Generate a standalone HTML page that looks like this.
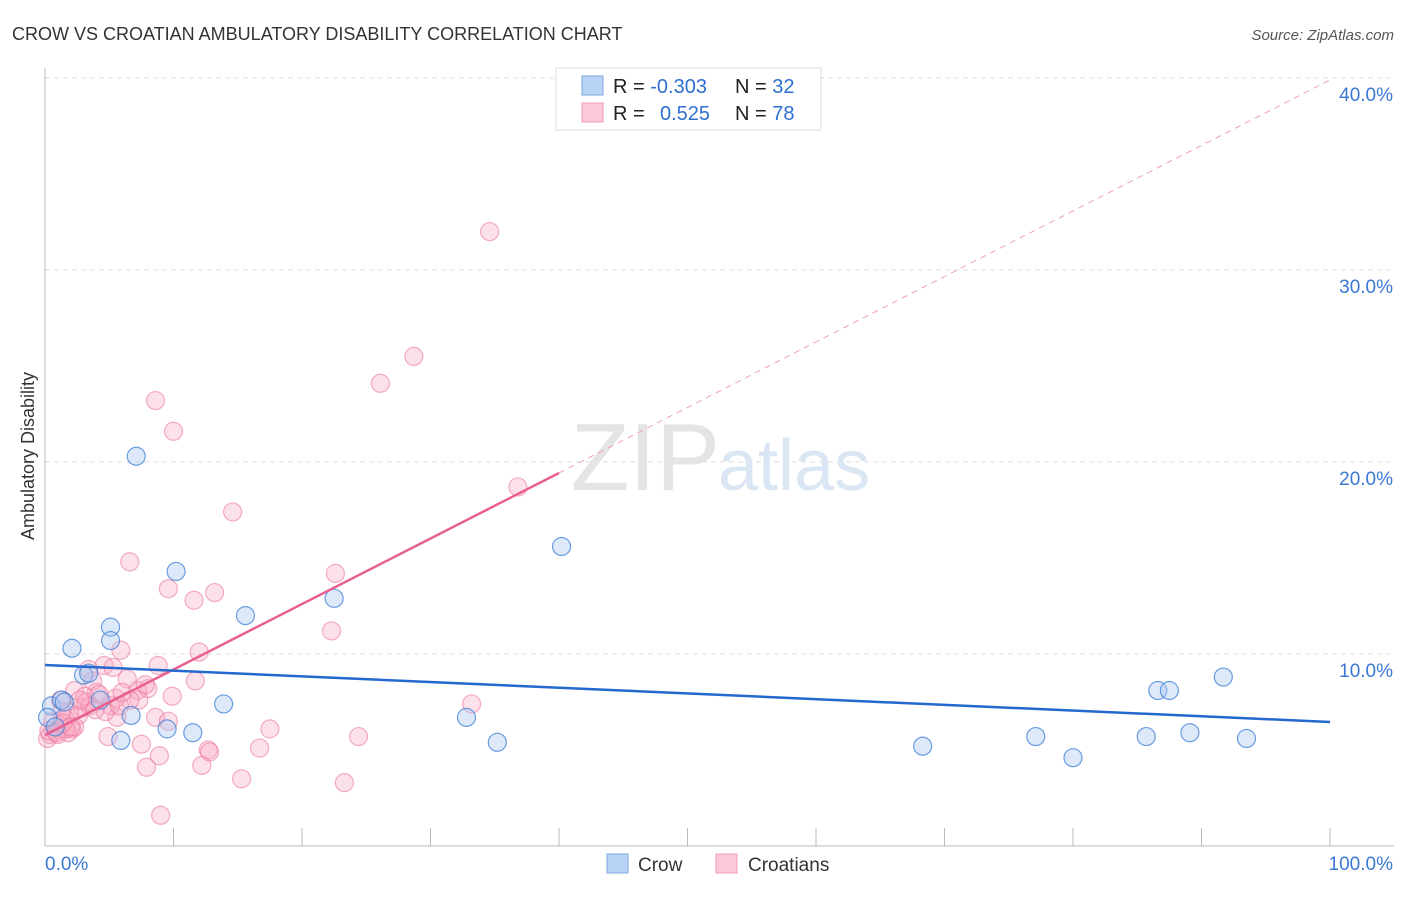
<!DOCTYPE html>
<html><head><meta charset="utf-8"><style>
body{margin:0;background:#fff;font-family:"Liberation Sans",sans-serif;}
svg text{font-family:"Liberation Sans",sans-serif;}
</style></head><body>
<svg id="chart" width="1406" height="892">
<text x="12" y="40" font-size="18" fill="#333">CROW VS CROATIAN AMBULATORY DISABILITY CORRELATION CHART</text>
<text x="1394" y="40" font-size="15" fill="#555" font-style="italic" text-anchor="end">Source: ZipAtlas.com</text>
<text x="0" y="0" font-size="18" fill="#333" transform="translate(34,456) rotate(-90)" text-anchor="middle">Ambulatory Disability</text>
<g id="grid"></g>
<g id="axes"></g>
<text x="720" y="490" font-size="96" fill="#e4e4e4" text-anchor="end" font-family="Liberation Serif">ZIP</text>
<text x="718" y="490" font-size="72" fill="#dbe6f5">atlas</text>
<g id="marks"></g>
<g>
<rect x="556" y="68" width="265" height="62" fill="#fff" stroke="#ddd"/>
<rect x="582" y="76" width="21" height="19" fill="#b9d3f5" stroke="#7ba7e0"/>
<rect x="582" y="103" width="21" height="19" fill="#fcc9d8" stroke="#f09ab5"/>
<text x="613" y="93" font-size="20" fill="#222">R = <tspan fill="#2f6fd0">-0.303</tspan></text>
<text x="735" y="93" font-size="20" fill="#222">N = <tspan fill="#2f6fd0">32</tspan></text>
<text x="613" y="120" font-size="20" fill="#222">R = <tspan fill="#2f6fd0" x="660">0.525</tspan></text>
<text x="735" y="120" font-size="20" fill="#222">N = <tspan fill="#2f6fd0">78</tspan></text>
</g>
<g>
<rect x="607" y="854" width="21" height="19" fill="#b9d3f5" stroke="#7ba7e0"/>
<text x="638" y="871" font-size="19" fill="#333">Crow</text>
<rect x="716" y="854" width="21" height="19" fill="#fcc9d8" stroke="#f09ab5"/>
<text x="748" y="871" font-size="19" fill="#333">Croatians</text>
</g>
</svg>
<script>
const yTicks=[10,20,30,40];
const yTickLabels=["10.0%","20.0%","30.0%","40.0%"];
const xTickLabels=["0.0%","100.0%"];
const crowX=[7.1,10.2,40.2,22.5,15.6,5.1,5.1,2.1,3.0,3.4,0.5,1.3,13.9,4.3,6.7,9.5,11.5,5.9,32.8,35.2,68.3,77.1,80.0,85.7,86.6,87.5,89.1,91.7,93.5,0.2,0.8,1.5];
const crowY=[20.3,14.3,15.6,12.9,12.0,11.4,10.7,10.3,8.9,9.0,7.3,7.6,7.4,7.6,6.8,6.1,5.9,5.5,6.7,5.4,5.2,5.7,4.6,5.7,8.1,8.1,5.9,8.8,5.6,6.7,6.2,7.5];
const croX=[34.6,28.7,26.1,8.6,10.0,36.8,14.6,6.6,22.6,9.6,13.2,11.6,22.3,5.9,12.0,33.2,8.8,4.6,3.4,5.3,11.7,6.4,8.0,7.2,2.3,4.0,5.5,1.2,9.9,7.3,3.2,2.9,1.9,5.6,8.6,9.6,17.5,12.7,12.8,16.7,24.4,4.9,7.5,8.9,7.9,12.2,15.3,23.3,9.0,0.4,0.8,1.2,0.2,1.6,2.1,1.0,3.5,2.6,1.8,0.6,1.3,3.1,6.6,5.1,7.8,3.7,4.7,2.3,1.6,2.7,3.9,5.8,0.3,0.9,1.4,2.0,4.2,6.0];
const croY=[32.0,25.5,24.1,23.2,21.6,18.7,17.4,14.8,14.2,13.4,13.2,12.8,11.2,10.2,10.1,7.4,9.4,9.4,9.2,9.3,8.6,8.7,8.2,8.1,8.1,8.0,7.7,7.6,7.8,7.6,7.5,7.2,7.0,6.7,6.7,6.5,6.1,5.0,4.9,5.1,5.7,5.7,5.3,4.7,4.1,4.2,3.5,3.3,1.6,5.8,6.0,6.3,5.6,6.6,6.1,5.8,7.3,6.8,5.9,6.5,7.0,7.8,7.6,7.3,8.4,8.6,7.0,6.2,6.1,7.6,7.1,7.3,6.0,5.9,6.4,6.2,7.9,8.0];
const crowTrend=[9.43,6.46];   // y at x=0, x=100
const croTrend=[5.78,39.9];    // y at x=0, x=100
const croSolidEnd=40;
const NS="http://www.w3.org/2000/svg";
const X=v=>45+v*12.85, Y=v=>846-v*19.2;
function mk(tag,attrs,parent){const e=document.createElementNS(NS,tag);for(const k in attrs)e.setAttribute(k,attrs[k]);parent.appendChild(e);return e;}
const grid=document.getElementById('grid'),axes=document.getElementById('axes'),marks=document.getElementById('marks');
yTicks.forEach((t,i)=>{
 const l=mk('line',{x1:45,x2:1394,y1:Y(t),y2:Y(t),stroke:'#ddd','stroke-dasharray':'5,4'},grid);
 
 
 const tx=mk('text',{x:1393,y:Y(t)+23,'font-size':19,fill:'#3a78d4','text-anchor':'end'},axes);
 tx.textContent=yTickLabels[i];
 
 
});
const ax=mk('line',{x1:45,x2:1394,y1:846,y2:846,stroke:'#bbb'},axes);


const ay=mk('line',{x1:45,x2:45,y1:68,y2:846,stroke:'#bbb'},axes);


for(let i=0;i<=10;i++){
 const t=mk('line',{x1:X(i*10),x2:X(i*10),y1:828,y2:846,stroke:'#bbb'},axes);
 
 
}
const xl0=mk('text',{x:45,y:870,'font-size':19,fill:'#3a78d4'},axes);xl0.textContent=xTickLabels[0];


const xl1=mk('text',{x:1393,y:870,'font-size':19,fill:'#3a78d4','text-anchor':'end'},axes);xl1.textContent=xTickLabels[1];


croX.forEach((v,i)=>{
 const c=mk('circle',{cx:X(v),cy:Y(croY[i]),r:9,fill:'rgba(248,170,195,0.35)',stroke:'rgba(235,120,160,0.6)','stroke-width':1.2},marks);
 
 
});
crowX.forEach((v,i)=>{
 const c=mk('circle',{cx:X(v),cy:Y(crowY[i]),r:9,fill:'rgba(170,200,240,0.4)',stroke:'rgba(60,125,215,0.75)','stroke-width':1.2},marks);
 
 
});
const cy=x=>croTrend[0]+(croTrend[1]-croTrend[0])*x/100;
const d=mk('line',{x1:X(croSolidEnd),y1:Y(cy(croSolidEnd)),x2:X(100),y2:Y(cy(100)),stroke:'#f0a0b8','stroke-width':1,'stroke-dasharray':'6,5'},marks);


const s=mk('line',{x1:X(0),y1:Y(cy(0)),x2:X(croSolidEnd),y2:Y(cy(croSolidEnd)),stroke:'#e8608e','stroke-width':2.5},marks);


const b=mk('line',{x1:X(0),y1:Y(crowTrend[0]),x2:X(100),y2:Y(crowTrend[1]),stroke:'#2468d0','stroke-width':2.5},marks);


</script>
</body></html>
